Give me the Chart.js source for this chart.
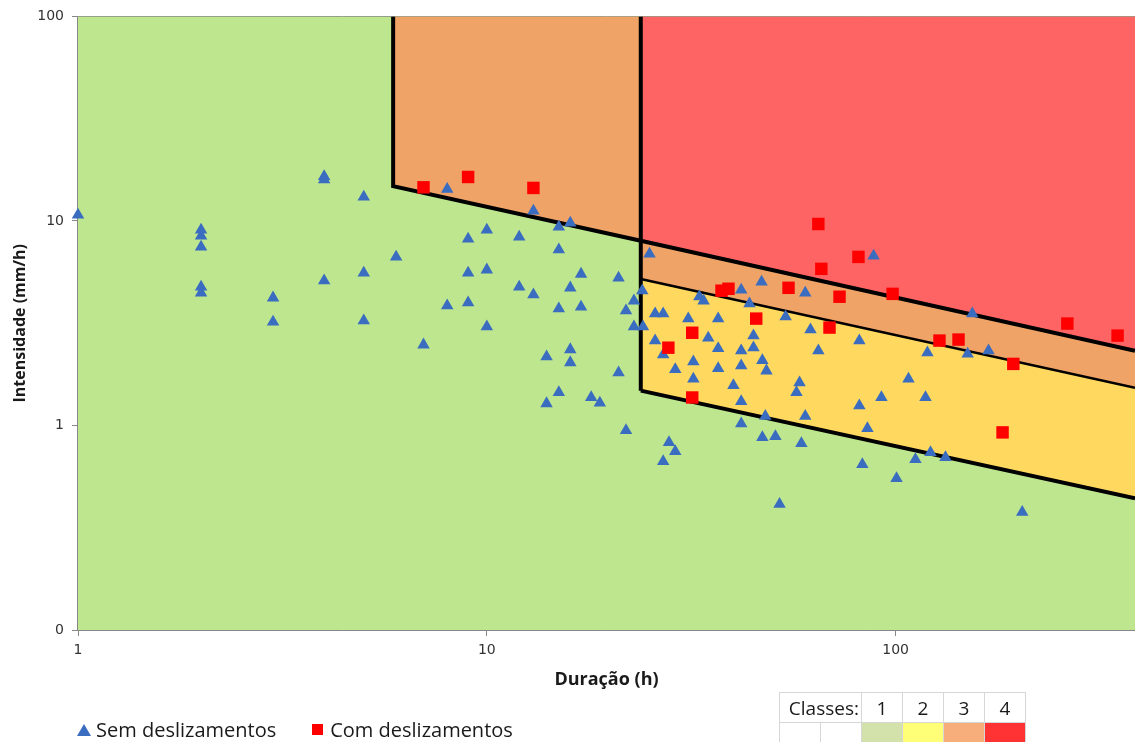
<!DOCTYPE html>
<html lang="pt">
<head>
<meta charset="utf-8">
<title>Intensidade x Duração</title>
<script src="https://cdn.jsdelivr.net/npm/chart.js@4.4.1/dist/chart.umd.min.js"></script>
<style>
    body { margin: 0; background: #fff; }
    .wrap { position: relative; width: 1135px; height: 742px; overflow: hidden; }
    .legend {
        position: absolute; left: 77px; top: 716px;
        font: 20px 'Open Sans', sans-serif; color: #1a1a1a;
        display: flex; align-items: center; white-space: nowrap;
    }
    .legend .tri {
        width: 0; height: 0; margin-right: 5px;
        border-left: 7px solid transparent; border-right: 7px solid transparent;
        border-bottom: 12px solid #3a6cc0;
    }
    .legend .sq { width: 11px; height: 11px; background: #ff0000; margin: 0 7px 0 36px; }
    table.classes {
        position: absolute; left: 779px; top: 692px;
        border-collapse: collapse; font: 19px 'Open Sans', sans-serif; color: #1a1a1a;
    }
    table.classes td { border: 1px solid #d6d6d6; width: 40px; height: 29px; padding: 0; text-align: center; }
    table.classes tr.cores td { height: 24px; }
    table.classes td.titulo { text-align: right; padding-right: 2px; }
</style>
</head>
<body>
<div class="wrap">
    <canvas id="chart" width="1135" height="742"></canvas>
    <div class="legend">
        <span class="tri"></span>Sem deslizamentos
        <span class="sq"></span>Com deslizamentos
    </div>
    <table class="classes">
        <tr><td class="titulo" colspan="2">Classes:</td><td>1</td><td>2</td><td>3</td><td>4</td></tr>
        <tr class="cores"><td></td><td></td><td style="background:#d3e2aa"></td><td style="background:#ffff77"></td><td style="background:#f8ae7b"></td><td style="background:#ff3333"></td></tr>
    </table>
</div>

<script>
// Eixos (escala logarítmica)
const xTickValues = [1, 10, 100];
const yTickValues = [0.1, 1, 10, 100];
const yTickLabels = ['0', '1', '10', '100'];
const xMin = 1, xMax = 385;
const yMin = 0.1, yMax = 100;

// Eventos sem deslizamentos (triângulos)
const semDuracao = [1, 2, 2, 2, 2, 2, 3, 3, 4, 4, 4, 5, 5, 5, 6, 7, 8, 8, 9, 9, 9, 10, 10, 10,
    12, 12, 13, 13, 14, 14, 15, 15, 15, 15, 16, 16, 16, 16, 17, 17, 18, 18.9, 21, 21, 21.9, 21.9,
    22.9, 22.9, 24, 24.1, 25, 25.8, 25.8, 27, 27, 27.9, 28.9, 28.9, 27, 31.1, 32, 32, 33.1, 33.9,
    34.8, 36.8, 36.8, 36.8, 40.1, 41.9, 41.9, 41.9, 41.9, 41.9, 43.9, 44.9, 44.9, 47, 47.2, 47.2,
    48.3, 48, 50.8, 52, 53.8, 57.2, 58.2, 58.8, 60.1, 60.1, 61.9, 64.7, 81.5, 81.5, 82.9, 85.3,
    88.3, 92.3, 100.5, 107.5, 111.8, 118.3, 119.6, 121.7, 132.4, 150, 154, 168.7, 204];
const semIntensidade = [10.7, 9.04, 8.45, 7.46, 4.76, 4.45, 4.21, 3.21, 16.5, 15.9, 5.1, 13.1, 5.57,
    3.25, 6.67, 2.48, 14.3, 3.85, 8.17, 5.57, 3.98, 9.04, 5.77, 3.04, 8.35, 4.76, 11.2, 4.36, 2.17,
    1.28, 9.35, 7.23, 3.72, 1.45, 9.78, 4.71, 2.35, 2.03, 5.5, 3.8, 1.37, 1.29, 5.27, 1.81, 3.64,
    0.946, 4.07, 3.04, 4.56, 3.04, 6.9, 3.52, 2.6, 3.52, 2.22, 0.826, 1.88, 0.746, 0.667, 3.33,
    2.05, 1.69, 4.26, 4.07, 2.68, 3.33, 2.38, 1.9, 1.57, 4.6, 2.32, 1.96, 1.31, 1.02, 3.94, 2.75,
    2.4, 5.03, 2.08, 0.874, 1.85, 1.11, 0.883, 0.412, 3.4, 1.45, 1.62, 0.817, 4.45, 1.11, 2.94,
    2.32, 2.6, 1.25, 0.645, 0.967, 6.74, 1.37, 0.551, 1.69, 0.683, 1.37, 2.27, 0.738, 0.698, 2.24,
    3.52, 2.32, 0.377];

// Eventos com deslizamentos (quadrados)
const comDuracao = [7, 9, 13, 27.8, 31.8, 31.8, 37.5, 39, 45.6, 54.7, 64.7, 65.8, 68.9, 72.9,
    81.1, 98.3, 128, 142.5, 182.6, 194, 263, 349];
const comIntensidade = [14.6, 16.4, 14.5, 2.4, 2.84, 1.37, 4.56, 4.66, 3.33, 4.71, 9.66, 5.83,
    3.01, 4.26, 6.67, 4.4, 2.6, 2.63, 0.925, 2.0, 3.15, 2.75];

// Zonas das classes [duração, intensidade]
const classe1Zona = [[1, 0.1], [1, 100], [385, 100], [385, 0.1]];
const classe2Zona = [[23.8, 5.2], [385, 1.53], [385, 0.44], [23.8, 1.48]];
const classe3ZonaTopo = [[5.9, 100], [23.8, 100], [23.8, 8], [5.9, 14.8]];
const classe3ZonaFaixa = [[23.8, 8], [385, 2.32], [385, 1.53], [23.8, 5.2]];
const classe4Zona = [[23.8, 100], [385, 100], [385, 2.32], [23.8, 8]];

// Limites entre as classes
const limiteSuperior = [[5.9, 100], [5.9, 14.8], [23.8, 8], [385, 2.32]];
const limiteVertical = [[23.8, 100], [23.8, 1.48]];
const limiteMedio = [[23.8, 5.2], [385, 1.53]];
const limiteInferior = [[23.8, 1.48], [385, 0.44]];

const toPoints = pairs => pairs.map(p => ({ x: p[0], y: p[1] }));
const zip = (xs, ys) => xs.map((x, i) => ({ x: x, y: ys[i] }));

function zona(data, color, order) {
    return {
        data: toPoints(data), showLine: true, fill: 'shape',
        backgroundColor: color, borderColor: 'transparent', borderWidth: 0,
        pointRadius: 0, tension: 0, order: order
    };
}

function limite(data, width, order) {
    return {
        data: toPoints(data), showLine: true, fill: false,
        borderColor: '#000', borderWidth: width, borderJoinStyle: 'miter',
        pointRadius: 0, tension: 0, order: order
    };
}

const gridColor = '#878787';
const tickFont = { family: "'DejaVu Sans', sans-serif", size: 14 };

new Chart(document.getElementById('chart'), {
    type: 'scatter',
    data: {
        datasets: [
            zona(classe1Zona, '#bde68f', 20),
            zona(classe3ZonaTopo, '#f0a366', 19),
            zona(classe4Zona, '#ff6464', 18),
            zona(classe3ZonaFaixa, '#f0a366', 17),
            zona(classe2Zona, '#ffd95f', 16),
            limite(limiteSuperior, 4, 10),
            limite(limiteVertical, 4, 9),
            limite(limiteMedio, 2.5, 8),
            limite(limiteInferior, 4, 7),
            {
                label: 'Sem deslizamentos',
                data: zip(semDuracao, semIntensidade),
                pointStyle: 'triangle', pointRadius: 7.2,
                backgroundColor: '#3a6cc0', borderColor: '#3a6cc0', borderWidth: 0,
                clip: false, order: 2
            },
            {
                label: 'Com deslizamentos',
                data: zip(comDuracao, comIntensidade),
                pointStyle: 'rect', pointRadius: 8.8,
                backgroundColor: '#ff0000', borderColor: '#ff0000', borderWidth: 0,
                clip: false, order: 1
            }
        ]
    },
    options: {
        responsive: false,
        animation: false,
        events: [],
        layout: { autoPadding: false, padding: { top: 15, right: 0, left: 0, bottom: 0 } },
        plugins: { legend: { display: false }, tooltip: { enabled: false } },
        scales: {
            x: {
                type: 'logarithmic', min: xMin, max: xMax,
                afterBuildTicks: scale => { scale.ticks = xTickValues.map(v => ({ value: v })); },
                afterFit: scale => { scale.height = 112; },
                ticks: { color: '#333', font: tickFont, padding: 6, callback: v => String(v) },
                grid: { color: gridColor, lineWidth: 1, tickLength: 6 },
                border: { color: gridColor, width: 1.5 },
                title: {
                    display: true, text: 'Duração (h)', color: '#1a1a1a',
                    font: { family: "'Open Sans', sans-serif", size: 18, weight: 'bold' },
                    padding: { top: 0, bottom: 51 }
                }
            },
            y: {
                type: 'logarithmic', min: yMin, max: yMax,
                afterBuildTicks: scale => { scale.ticks = yTickValues.map(v => ({ value: v })); },
                afterFit: scale => { scale.width = 78; },
                ticks: {
                    color: '#333', font: tickFont, padding: 8,
                    callback: v => yTickLabels[yTickValues.indexOf(v)]
                },
                grid: { color: gridColor, lineWidth: 1, tickLength: 6 },
                border: { color: gridColor, width: 1.5 },
                title: {
                    display: true, text: 'Intensidade (mm/h)', color: '#1a1a1a',
                    font: { family: "'Open Sans', sans-serif", size: 16, weight: 'bold' },
                    padding: { top: 11, bottom: 0 }
                }
            }
        }
    }
});
</script>
</body>
</html>
